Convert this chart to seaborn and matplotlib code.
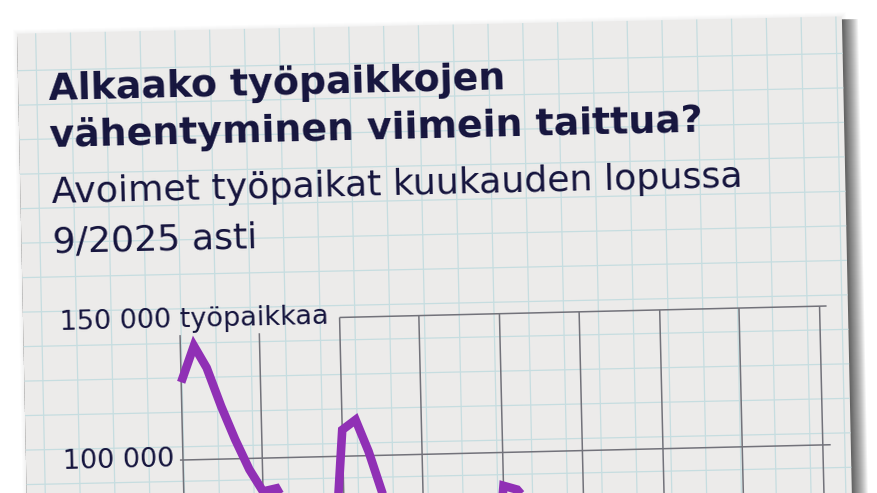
import matplotlib
matplotlib.use("Agg")
import matplotlib.pyplot as plt
import matplotlib.dates as mdates
import matplotlib.transforms as mtransforms
from matplotlib.patches import Rectangle
import numpy as np
import pandas as pd
import seaborn as sns

# --- data (open job vacancies at end of month) ---
months = pd.date_range("2022-01-01", "2025-09-01", freq="MS")
vacancies = [
    128000, 141000, 133000, 119000, 107000, 96000, 88000, 89000, 80000, 74000, 66000, 50000,
    109500, 113000, 101500, 85500, 79000, 72000, 63000, 65000, 61000, 56000, 50000, 41000,
    88000, 86500, 81000, 74000, 67000, 60000, 52000, 55000, 51000, 47000, 43000, 35000,
    70000, 77000, 74000, 68000, 62000, 56000, 49000, 53000, 51000,
]
grid_dates = pd.date_range("2022-01-01", "2026-01-01", freq="6MS")
y_ticks = [100000, 150000]
y_tick_labels = ["100 000", "150 000 työpaikkaa"]
title_lines = ["Alkaako työpaikkojen", "vähentyminen viimein taittua?"]
subtitle_lines = ["Avoimet työpaikat kuukauden lopussa", "9/2025 asti"]

df = pd.DataFrame({"kuukausi": months, "avoimet": vacancies})

# --- look ---
W, H = 878, 493
PAPER = "#ecebea"
BLUE_GRID = "#c6dde0"
DARK_GRID = "#72727a"
PURPLE = "#9030b5"
INK = "#15143d"

sns.set_style("white")
plt.rcParams["font.family"] = ["DejaVu Sans"]

fig = plt.figure(figsize=(W / 100, H / 100), dpi=100, facecolor="white")

# the sheet is slightly tilted: everything is drawn flat, then rotated
rot_paper = mtransforms.Affine2D().rotate_deg_around(183, 33, 1.2)
rot_chart = mtransforms.Affine2D().rotate_deg_around(183, 33, 1.35)

# background axes in image pixels (y down)
bg = fig.add_axes([0, 0, 1, 1], zorder=0)
bg.set_xlim(0, W)
bg.set_ylim(H, 0)
bg.axis("off")
bg.patch.set_visible(False)

px0, py0, pw = 26, 30.3, 825
# soft halo around the sheet
for k in range(1, 5):
    halo = Rectangle((px0 - k, py0 - k), pw + 2 * k, 800,
                     facecolor="black", edgecolor="none", alpha=0.012)
    halo.set_transform(bg.transData + rot_paper)
    bg.add_patch(halo)
# darker drop shadow on the right
for k in range(1, 17):
    sh = Rectangle((px0, py0 + 3), pw + k * 1.0, 800,
                   facecolor="black", edgecolor="none", alpha=0.05)
    sh.set_transform(bg.transData + rot_paper)
    bg.add_patch(sh)
paper = Rectangle((px0, py0), pw, 800, facecolor=PAPER, edgecolor="none")
paper.set_transform(bg.transData + rot_paper)
bg.add_patch(paper)

gx = np.arange(44.6, px0 + pw, 34.8)
gy = np.arange(67.3, 600, 34.5)
vl = bg.vlines(gx, py0, 600, color=BLUE_GRID, lw=0.9)
hl = bg.hlines(gy, px0, px0 + pw, color=BLUE_GRID, lw=0.9)
for c in (vl, hl):
    c.set_transform(bg.transData + rot_paper)
    c.set_clip_on(False)

text_tr = bg.transData + rot_chart
bg.text(57.5, 97.0, title_lines[0], transform=text_tr, rotation=1.35, rotation_mode="anchor",
        ha="left", va="baseline", fontsize=27.3, fontweight="bold", color=INK)
bg.text(57.0, 144.0, title_lines[1], transform=text_tr, rotation=1.35, rotation_mode="anchor",
        ha="left", va="baseline", fontsize=27.3, fontweight="bold", color=INK)
bg.text(58.0, 200.0, subtitle_lines[0], transform=text_tr, rotation=1.35, rotation_mode="anchor",
        ha="left", va="baseline", fontsize=26.2, color=INK)
bg.text(57.5, 249.0, subtitle_lines[1], transform=text_tr, rotation=1.35, rotation_mode="anchor",
        ha="left", va="baseline", fontsize=26.2, color=INK)

# chart axes covering the whole figure (flat frame)
ax = fig.add_axes([0, 0, 1, 1], zorder=1)
ax.patch.set_visible(False)
sns.lineplot(data=df, x="kuukausi", y="avoimet", ax=ax, color=PURPLE, linewidth=6.2, zorder=3)

start = pd.Timestamp("2022-01-01")
px_per_day = 640 / (pd.Timestamp("2026-01-01") - start).days
px_per_unit = 138.8 / 50000
x_left = start - pd.Timedelta(days=183 / px_per_day)
x_right = start + pd.Timedelta(days=(W - 183) / px_per_day)
ax.set_xlim(mdates.date2num(x_left), mdates.date2num(x_right))
ax.set_ylim(100000 - 33 / px_per_unit, 100000 + 460 / px_per_unit)
ax.axis("off")

chart_tr = ax.transData + rot_chart
tops = [145000 if d < pd.Timestamp("2023-01-01") else 150000 for d in grid_dates]
grid_artists = [
    ax.vlines(grid_dates, 30000, tops, color=DARK_GRID, lw=1.1, zorder=1),
    ax.hlines(100000, start - pd.Timedelta(days=7), grid_dates[-1] + pd.Timedelta(days=18),
              color=DARK_GRID, lw=1.1, zorder=1),
    ax.hlines(150000, pd.Timestamp("2023-01-01"), grid_dates[-1] + pd.Timedelta(days=16),
              color=DARK_GRID, lw=1.1, zorder=1),
]
for a in grid_artists:
    a.set_transform(chart_tr)
    a.set_clip_on(False)

line = ax.lines[-1]
line.set_transform(chart_tr)
line.set_clip_on(False)
line.set_solid_joinstyle("miter")
line.set_solid_capstyle("butt")

label_tr = mtransforms.offset_copy(
    mtransforms.blended_transform_factory(bg.transData, ax.transData),
    fig=fig, y=-6.3, units="dots") + rot_chart
for val, lab in zip(y_ticks, y_tick_labels):
    ax.text(63, val, lab, transform=label_tr, rotation=1.35, rotation_mode="anchor",
            ha="left", va="baseline", fontsize=19.5, color=INK, clip_on=False)

fig.savefig("out.png", dpi=100, facecolor="white")
